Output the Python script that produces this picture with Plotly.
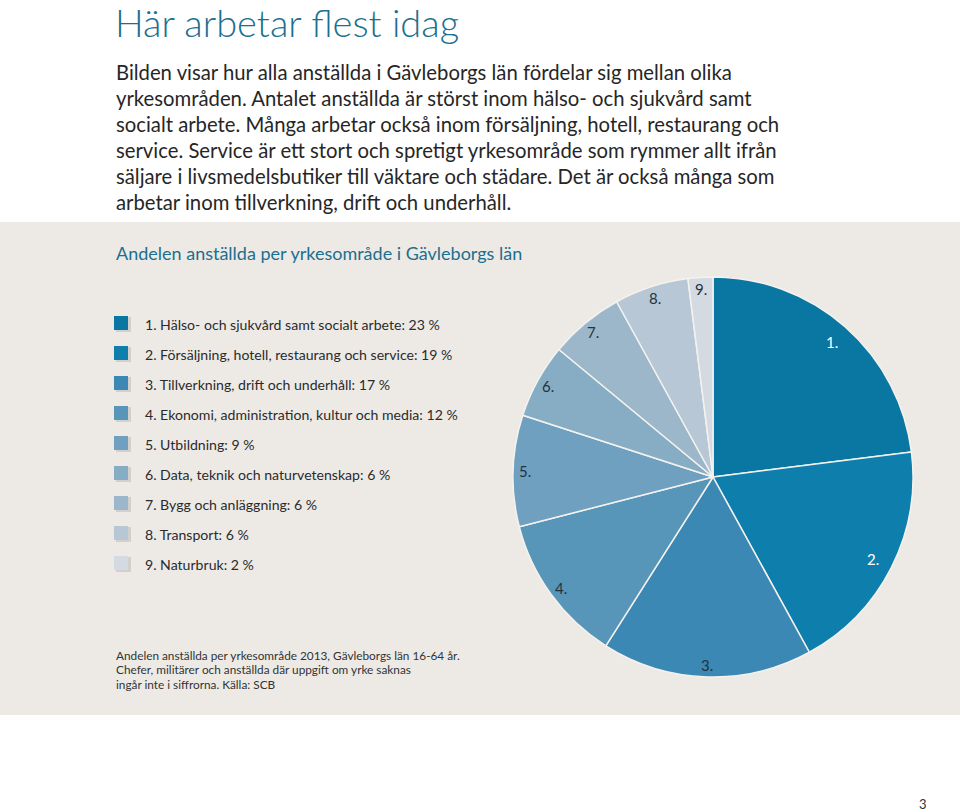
import math
import plotly.graph_objects as go

W, H = 960, 812

# ---- data ----
categories = [
    "Hälso- och sjukvård samt socialt arbete",
    "Försäljning, hotell, restaurang och service",
    "Tillverkning, drift och underhåll",
    "Ekonomi, administration, kultur och media",
    "Utbildning",
    "Data, teknik och naturvetenskap",
    "Bygg och anläggning",
    "Transport",
    "Naturbruk",
]
shares = [23, 19, 17, 12, 9, 6, 6, 6, 2]
slice_labels = ["1.", "2.", "3.", "4.", "5.", "6.", "7.", "8.", "9."]
colors = ["#0a76a2", "#0e7fac", "#3a88b3", "#5795b9", "#70a0bf",
          "#87adc5", "#9cb7ca", "#b7c7d5", "#d3dae2"]
label_colors = ["#ffffff", "#ffffff", "#24323d", "#24323d", "#24323d",
                "#24323d", "#24323d", "#24323d", "#24323d"]

title = "Här arbetar flest idag"
body_lines = [
    "Bilden visar hur alla anställda i Gävleborgs län fördelar sig mellan olika",
    "yrkesområden. Antalet anställda är störst inom hälso- och sjukvård samt",
    "socialt arbete. Många arbetar också inom försäljning, hotell, restaurang och",
    "service. Service är ett stort och spretigt yrkesområde som rymmer allt ifrån",
    "säljare i livsmedelsbutiker till väktare och städare. Det är också många som",
    "arbetar inom tillverkning, drift och underhåll.",
]
chart_title = "Andelen anställda per yrkesområde i Gävleborgs län"
source_lines = [
    "Andelen anställda per yrkesområde 2013, Gävleborgs län 16-64 år.",
    "Chefer, militärer och anställda där uppgift om yrke saknas",
    "ingår inte i siffrorna. Källa: SCB",
]
page_number = "3"

FONT = "Lato"
TEAL = "#1b6f90"

def px(x):
    return x / W

def py(y):
    return 1 - y / H

# pie geometry
cx, cy, R = 713, 477, 200

fig = go.Figure()
fig.add_trace(go.Pie(
    labels=[f"{i+1}. {c}" for i, c in enumerate(categories)],
    values=shares,
    sort=False,
    direction="clockwise",
    rotation=0,
    marker=dict(colors=colors, line=dict(color="#f4f2ef", width=1.5)),
    textinfo="none",
    hoverinfo="label+value",
    showlegend=False,
    domain=dict(x=[px(cx - R), px(cx + R)], y=[py(cy + R), py(cy - R)]),
))

annotations = []
shapes = []

# grey panel
shapes.append(dict(type="rect", xref="paper", yref="paper",
                   x0=0, x1=1, y0=py(715), y1=py(222),
                   fillcolor="#edeae6", line=dict(width=0), layer="below"))

# title
annotations.append(dict(text=title, x=px(113), y=py(22), xref="paper", yref="paper",
                        xanchor="left", yanchor="middle", showarrow=False,
                        font=dict(family=FONT, size=38, color=TEAL, weight=300)))
# body
for i, line in enumerate(body_lines):
    annotations.append(dict(text=line, x=px(114), y=py(72 + i * 26.0), xref="paper", yref="paper",
                            xanchor="left", yanchor="middle", showarrow=False,
                            font=dict(family=FONT, size=20.3, color="#262626")))
# chart title
annotations.append(dict(text=chart_title, x=px(114), y=py(253), xref="paper", yref="paper",
                        xanchor="left", yanchor="middle", showarrow=False,
                        font=dict(family=FONT, size=18, color=TEAL)))

# legend (manual)
for i, (c, s) in enumerate(zip(categories, shares)):
    yc = 323 + i * 30
    shapes.append(dict(type="rect", xref="paper", yref="paper",
                       x0=px(116), x1=px(131), y0=py(yc + 9), y1=py(yc - 6),
                       fillcolor="rgba(90,90,90,0.18)", line=dict(width=0)))
    shapes.append(dict(type="rect", xref="paper", yref="paper",
                       x0=px(114), x1=px(128), y0=py(yc + 7), y1=py(yc - 7),
                       fillcolor=colors[i], line=dict(width=0)))
    annotations.append(dict(text=f"{i+1}. {c}: {s} %", x=px(143), y=py(yc + 1),
                            xref="paper", yref="paper", xanchor="left", yanchor="middle",
                            showarrow=False, font=dict(family=FONT, size=14.1, color="#2b2b2b")))

# slice labels, placed along each slice's mid-angle
total = sum(shares)
cum = 0
for i, v in enumerate(shares):
    mid = (cum + v / 2) / total * 2 * math.pi
    cum += v
    r = R * (0.90 if v >= 19 else 0.94)
    lx = cx + r * math.sin(mid)
    ly = cy - r * math.cos(mid)
    annotations.append(dict(text=slice_labels[i], x=px(lx), y=py(ly), xref="paper", yref="paper",
                            xanchor="center", yanchor="middle", showarrow=False,
                            font=dict(family=FONT, size=15, color=label_colors[i])))

# source
for i, line in enumerate(source_lines):
    annotations.append(dict(text=line, x=px(114), y=py(655 + i * 14.5), xref="paper", yref="paper",
                            xanchor="left", yanchor="middle", showarrow=False,
                            font=dict(family=FONT, size=11.8, color="#333333")))

annotations.append(dict(text=page_number, x=px(923), y=py(804), xref="paper", yref="paper",
                        xanchor="center", yanchor="middle", showarrow=False,
                        font=dict(family=FONT, size=13, color="#333333")))

fig.update_layout(
    width=W, height=H,
    margin=dict(l=0, r=0, t=0, b=0),
    paper_bgcolor="#ffffff",
    plot_bgcolor="#ffffff",
    shapes=shapes,
    annotations=annotations,
)

fig.write_html("out.html", config={"displayModeBar": False},
               post_script="document.body.style.margin='0';")
